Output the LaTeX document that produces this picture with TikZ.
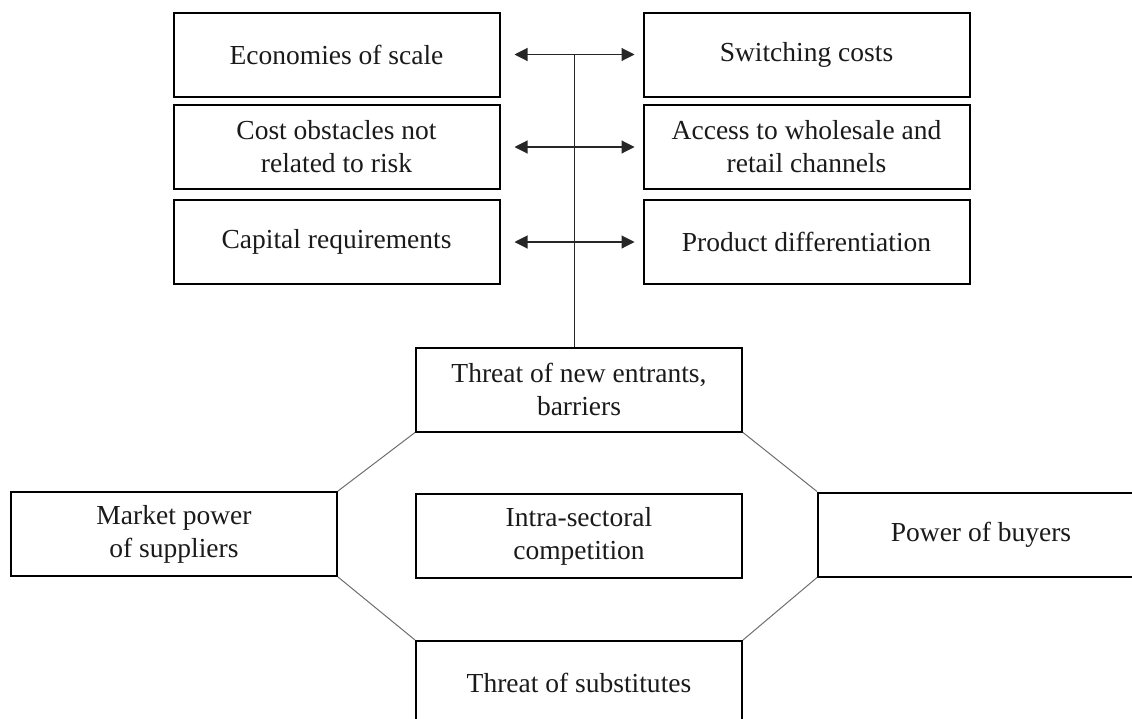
\documentclass[tikz,border=0pt]{standalone}
\usepackage{fontspec}
\setmainfont{Liberation Serif}
\usetikzlibrary{arrows.meta}
\definecolor{linegray}{HTML}{6e6e6e}
\definecolor{textdark}{HTML}{1a1a1a}

\tikzset{
	box/.style={draw=black, line width=2pt, minimum width=326pt, minimum height=84pt,
		inner sep=0pt, align=center, text=textdark,
		font=\fontsize{27.5}{33}\selectfont},
	twoway/.style={draw=black!85, line width=1.1pt,
		{Triangle[length=13pt,width=13pt]}-{Triangle[length=13pt,width=13pt]},
		shorten <=14pt, shorten >=8pt},
	stem/.style={draw=black!85, line width=1pt},
	rim/.style={draw=linegray, line width=1pt}
}

\begin{document}
\begin{tikzpicture}[x=1pt, y=-1pt]
		\useasboundingbox (0,0) rectangle (1132,718);
		\clip (0,0) rectangle (1132,718);

		% entry barriers
		\node[box] (scale)   at (336.5,54.5) {Economies of scale};
		\node[box] (cost)    at (336.5,147)  {Cost obstacles not\\related to risk};
		\node[box] (capital) at (336.5,242)  {Capital requirements};
		\node[box] (switch)  at (806.5,54.5) {Switching costs};
		\node[box] (access)  at (806.5,147)  {Access to wholesale and\\retail channels};
		\node[box] (diff)    at (806.5,242)  {Product differentiation};

		% five forces
		\node[box] (entry)     at (579,389.5) {Threat of new entrants,\\barriers};
		\node[box] (rivalry)   at (579,536)   {Intra-sectoral\\competition};
		\node[box] (subst)     at (579,683)   {Threat of substitutes};
		\node[box] (suppliers) at (174,534)   {Market power\\of suppliers};
		\node[box] (buyers)    at (981,534.5) {Power of buyers};

		\draw[twoway] (scale.east) -- (switch.west);
		\draw[twoway] (cost.east) -- (access.west);
		\draw[twoway] (capital.east) -- (diff.west);
		\draw[stem] ([xshift=-5pt]entry.north) -- ([xshift=-5pt]entry.north |- scale.east);

		\draw[rim] (entry.south west) -- (suppliers.north east);
		\draw[rim] (suppliers.south east) -- (subst.north west);
		\draw[rim] (entry.south east) -- (buyers.north west);
		\draw[rim] (buyers.south west) -- (subst.north east);
	\end{tikzpicture}
\end{document}
